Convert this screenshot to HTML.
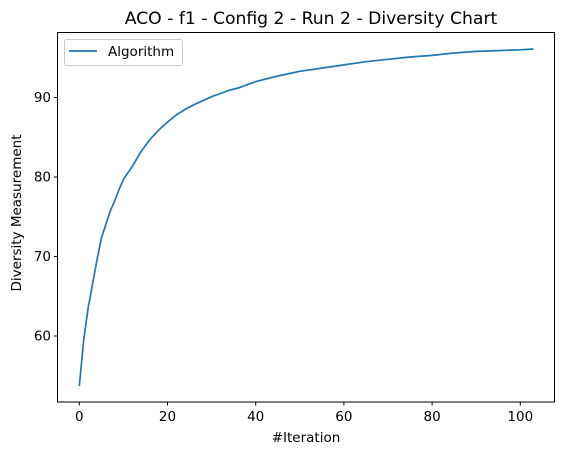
<!DOCTYPE html>
<html><head><meta charset="utf-8"><style>
body{margin:0;background:#fff;}
svg text{font-family:"DejaVu Sans","Liberation Sans",sans-serif;fill:#000;}
</style></head><body>
<svg id="chart" width="562" height="455">
<rect width="562" height="455" fill="#fff"/>
<text x="311" y="24" font-size="17.2" text-anchor="middle">ACO - f1 - Config 2 - Run 2 - Diversity Chart</text>
<g id="ticks"></g>
<path id="line" fill="none" stroke="#1f77b4" stroke-width="1.7"/>
<rect x="57.5" y="32.5" width="497" height="369.5" fill="none" stroke="#000" stroke-width="1"/>
<text x="306" y="442" font-size="13.5" text-anchor="middle">#Iteration</text>
<text transform="translate(21,213) rotate(-90)" font-size="13.5" text-anchor="middle">Diversity Measurement</text>
<g>
<rect x="64.5" y="39.5" width="118" height="26" rx="2" fill="#fff" stroke="#ccc"/>
<line x1="69" y1="51" x2="97" y2="51" stroke="#1f77b4" stroke-width="1.7"/>
<text x="108" y="56" font-size="13.5">Algorithm</text>
</g>
</svg>
<script>
const iters=[0,1,2,3,4,5,6,7,8,9,10,12,14,16,18,20,22,24,26,28,30,32,34,36,38,40,45,50,55,60,65,70,75,80,85,90,95,100,103];
const values=[53.7,59.5,63.5,66.5,69.5,72.3,74,75.7,77,78.4,79.7,81.3,83.2,84.7,85.9,86.9,87.8,88.5,89.1,89.6,90.1,90.5,90.9,91.2,91.6,92.0,92.7,93.3,93.7,94.1,94.5,94.8,95.1,95.3,95.6,95.8,95.9,96.0,96.1];
const xTicks=[0,20,40,60,80,100];
const yTicks=[60,70,80,90];
const xs=v=>79.3+v*4.41;
const ys=v=>97.5+(90-v)*7.95;
const ns="http://www.w3.org/2000/svg";
const g=document.getElementById('ticks');
xTicks.forEach(t=>{
 const l=document.createElementNS(ns,'line');
 l.setAttribute('x1',xs(t));l.setAttribute('x2',xs(t));l.setAttribute('y1',402);l.setAttribute('y2',405.5);l.setAttribute('stroke','#000');
 
 
 g.appendChild(l);
 const tx=document.createElementNS(ns,'text');
 tx.setAttribute('x',xs(t));tx.setAttribute('y',421);tx.setAttribute('font-size','13.5');tx.setAttribute('text-anchor','middle');tx.textContent=t;
 
 
 g.appendChild(tx);
});
yTicks.forEach(t=>{
 const l=document.createElementNS(ns,'line');
 l.setAttribute('x1',54);l.setAttribute('x2',57.5);l.setAttribute('y1',ys(t));l.setAttribute('y2',ys(t));l.setAttribute('stroke','#000');
 
 
 g.appendChild(l);
 const tx=document.createElementNS(ns,'text');
 tx.setAttribute('x',51);tx.setAttribute('y',ys(t)+4.5);tx.setAttribute('font-size','13.5');tx.setAttribute('text-anchor','end');tx.textContent=t;
 
 
 g.appendChild(tx);
});
document.getElementById('line').setAttribute('d',iters.map((x,i)=>(i?'L':'M')+xs(x).toFixed(1)+','+ys(values[i]).toFixed(1)).join(''));
</script>
</body></html>
